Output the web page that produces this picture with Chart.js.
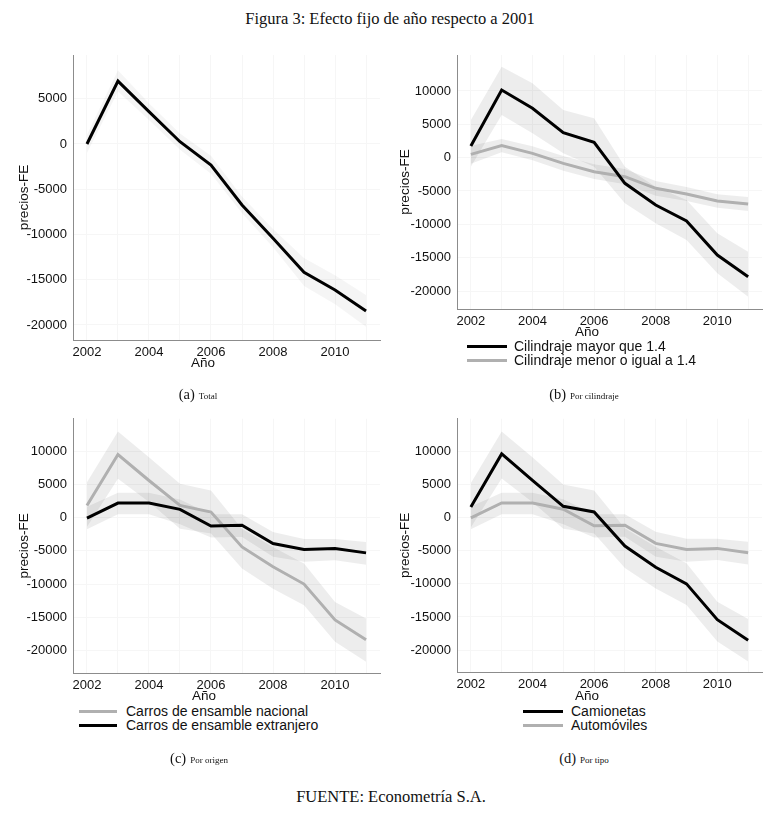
<!DOCTYPE html>
<html>
<head>
<meta charset="utf-8">
<script src="https://cdn.jsdelivr.net/npm/chart.js@4"></script>
<style>
  body { margin: 0; background: #fff; width: 781px; height: 822px; position: relative; overflow: hidden; }
  canvas { position: absolute; }
  .serif { position: absolute; font-family: "Liberation Serif", "DejaVu Serif", serif; color: #111; white-space: nowrap; transform: translate(-50%, -50%); }
  .axt { position: absolute; font-family: "Liberation Sans", Arial, sans-serif; font-size: 13.5px; color: #111; transform: translate(-50%, -50%); }
  .leg { position: absolute; font-family: "Liberation Sans", Arial, sans-serif; font-size: 14px; color: #111; line-height: 14px; }
  .leg div { position: relative; height: 14px; white-space: nowrap; }
  .leg span.ln { position: absolute; left: 0; top: 6px; height: 3px; }
  .leg span.tx { position: absolute; }
</style>
</head>
<body>
<div class="serif" style="left:390px;top:19px;font-size:16.5px">Figura 3: Efecto fijo de año respecto a 2001</div>

<canvas id="cA" width="390" height="322" style="left:0;top:40px"></canvas>
<canvas id="cB" width="391" height="291" style="left:390px;top:40px"></canvas>
<canvas id="cC" width="390" height="290" style="left:0;top:405px"></canvas>
<canvas id="cD" width="391" height="289" style="left:390px;top:405px"></canvas>

<div class="axt" style="left:203px;top:362px">Año</div>
<div class="axt" style="left:587px;top:331px">Año</div>
<div class="axt" style="left:204px;top:695px">Año</div>
<div class="axt" style="left:587px;top:695px">Año</div>

<div class="leg" style="left:467px;top:339px">
  <div><span class="ln" style="width:40px;background:#000"></span><span class="tx" style="left:47px">Cilindraje mayor que 1.4</span></div>
  <div><span class="ln" style="width:40px;background:#b0b0b0"></span><span class="tx" style="left:47px">Cilindraje menor o igual a 1.4</span></div>
</div>
<div class="leg" style="left:79px;top:704px">
  <div><span class="ln" style="width:38px;background:#b0b0b0"></span><span class="tx" style="left:47px">Carros de ensamble nacional</span></div>
  <div><span class="ln" style="width:38px;background:#000"></span><span class="tx" style="left:47px">Carros de ensamble extranjero</span></div>
</div>
<div class="leg" style="left:523px;top:704px">
  <div><span class="ln" style="width:40px;background:#000"></span><span class="tx" style="left:48px">Camionetas</span></div>
  <div><span class="ln" style="width:40px;background:#b0b0b0"></span><span class="tx" style="left:48px">Automóviles</span></div>
</div>

<div class="serif" style="left:198px;top:394px"><span style="font-size:14.5px">(a)</span> <span style="font-size:9px">Total</span></div>
<div class="serif" style="left:584px;top:394px"><span style="font-size:14.5px">(b)</span> <span style="font-size:9px">Por cilindraje</span></div>
<div class="serif" style="left:199px;top:758px"><span style="font-size:14.5px">(c)</span> <span style="font-size:9px">Por origen</span></div>
<div class="serif" style="left:584px;top:758px"><span style="font-size:14.5px">(d)</span> <span style="font-size:9px">Por tipo</span></div>
<div class="serif" style="left:391px;top:797px;font-size:16.5px">FUENTE: Econometría S.A.</div>

<script>
const years = [2002, 2003, 2004, 2005, 2006, 2007, 2008, 2009, 2010, 2011];
const xTickLabels = [2002, 2004, 2006, 2008, 2010];
const yTicksA = [-20000, -15000, -10000, -5000, 0, 5000];
const yTicksB = [-20000, -15000, -10000, -5000, 0, 5000, 10000];

// (a) Total
const total      = [0, 6950, 3570, 250, -2320, -6740, -10420, -14180, -16130, -18450];
const totalHi    = [1000, 8150, 4500, 1150, -1300, -5800, -9400, -12600, -14500, -16700];
const totalLo    = [-1000, 5800, 2650, -650, -3300, -7650, -11400, -15700, -17700, -20200];

// (b) Por cilindraje
const mayor      = [1750, 10150, 7400, 3750, 2300, -3850, -7100, -9500, -14600, -17850];
const mayorHi    = [5650, 13650, 11150, 7150, 5900, -1350, -4350, -6350, -11350, -14100];
const mayorLo    = [-1350, 6400, 3650, 650, -1350, -6850, -9850, -12350, -17350, -20850];
const menor      = [500, 1800, 650, -850, -2100, -2850, -4600, -5450, -6500, -6950];
const menorHi    = [1800, 2800, 1700, 250, -1000, -1700, -3500, -4400, -5500, -5900];
const menorLo    = [-900, 800, -400, -1950, -3200, -4000, -5700, -6500, -7500, -8000];

// (c) Por origen
const nacional   = [1850, 9510, 5600, 1850, 850, -4400, -7400, -10000, -15400, -18400];
const nacionalHi = [5350, 12970, 9100, 5100, 4100, -1650, -4400, -6900, -12700, -15200];
const nacionalLo = [-1400, 5850, 2350, -1650, -2400, -7650, -10700, -13200, -18700, -21700];
const extranjero   = [-50, 2200, 2200, 1250, -1250, -1150, -3900, -4800, -4650, -5300];
const extranjeroHi = [1650, 3750, 3750, 2750, 500, 500, -2150, -3200, -3200, -3650];
const extranjeroLo = [-1750, 500, 500, -1000, -3000, -2900, -5900, -6650, -6400, -7100];

// (d) Por tipo
const camionetas   = [1600, 9600, 5600, 1700, 850, -4300, -7500, -10000, -15400, -18500];
const camionetasHi = [5200, 13000, 9100, 5000, 4100, -1600, -4400, -6900, -12700, -15300];
const camionetasLo = [-1500, 5900, 2300, -1700, -2400, -7600, -10700, -13200, -18700, -21700];
const autos        = [-50, 2200, 2200, 1250, -1250, -1150, -3900, -4800, -4650, -5300];
const autosHi      = [1650, 3750, 3750, 2750, 500, 500, -2150, -3200, -3200, -3650];
const autosLo      = [-1750, 500, 500, -1000, -3000, -2900, -5900, -6650, -6400, -7100];

const BLACK = "#000000";
const GRAY = "#b0b0b0";
const FONT = "'Liberation Sans', Arial, sans-serif";

function pts(vals) {
  return years.map((x, i) => ({ x, y: vals[i] }));
}

function line(vals, color) {
  return { data: pts(vals), borderColor: color, borderWidth: 3, pointRadius: 0, fill: false, order: 0, tension: 0 };
}

function band(lo, hi, alpha) {
  return [
    { data: pts(lo), borderWidth: 0, pointRadius: 0, fill: false, order: 1 },
    { data: pts(hi), borderWidth: 0, pointRadius: 0, fill: "-1", backgroundColor: `rgba(0,0,0,${alpha})`, order: 1 }
  ];
}

function makeChart(id, datasets, cfg) {
  const ctx = document.getElementById(id).getContext("2d");
  return new Chart(ctx, {
    type: "line",
    data: { datasets },
    options: {
      responsive: false,
      animation: false,
      layout: { padding: { top: cfg.padTop, right: cfg.padRight, left: 0, bottom: 0 } },
      plugins: { legend: { display: false }, tooltip: { enabled: false } },
      scales: {
        x: {
          type: "linear",
          min: 2001.55,
          max: 2011.45,
          afterBuildTicks: s => { s.ticks = years.map(v => ({ value: v })); },
          afterFit: s => { s.height = 22; },
          ticks: {
            autoSkip: false,
            maxRotation: 0,
            padding: 5,
            color: "#111",
            font: { family: FONT, size: 13 },
            callback: v => (xTickLabels.includes(v) ? String(v) : "")
          },
          grid: { color: "#f6f6f6", drawTicks: false },
          border: { color: "#8c8c8c", width: 1 }
        },
        y: {
          min: cfg.yMin,
          max: cfg.yMax,
          afterBuildTicks: s => { s.ticks = cfg.yTicks.map(v => ({ value: v })); },
          afterFit: s => { s.width = cfg.yWidth; },
          ticks: {
            padding: 6,
            color: "#111",
            font: { family: FONT, size: 13 },
            callback: v => String(v)
          },
          title: {
            display: true,
            text: "precios-FE",
            color: "#111",
            font: { family: FONT, size: 13.5 },
            padding: { top: cfg.titlePad, bottom: 0 }
          },
          grid: { color: "#f6f6f6", drawTicks: false },
          border: { color: "#8c8c8c", width: 1 }
        }
      }
    }
  });
}

makeChart("cA", [
  line(total, BLACK),
  ...band(totalLo, totalHi, 0.04)
], { padTop: 15, padRight: 10, yWidth: 73, titlePad: 16, yMin: -21660, yMax: 9830, yTicks: yTicksA });

makeChart("cB", [
  line(mayor, BLACK),
  line(menor, GRAY),
  ...band(mayorLo, mayorHi, 0.07),
  ...band(menorLo, menorHi, 0.07)
], { padTop: 15, padRight: 19, yWidth: 67, titlePad: 7, yMin: -22700, yMax: 15400, yTicks: yTicksB });

makeChart("cC", [
  line(extranjero, BLACK),
  line(nacional, GRAY),
  ...band(nacionalLo, nacionalHi, 0.07),
  ...band(extranjeroLo, extranjeroHi, 0.07)
], { padTop: 13, padRight: 10, yWidth: 73, titlePad: 16, yMin: -23400, yMax: 14900, yTicks: yTicksB });

makeChart("cD", [
  line(camionetas, BLACK),
  line(autos, GRAY),
  ...band(camionetasLo, camionetasHi, 0.07),
  ...band(autosLo, autosHi, 0.07)
], { padTop: 13, padRight: 19, yWidth: 67, titlePad: 7, yMin: -23300, yMax: 14900, yTicks: yTicksB });
</script>
</body>
</html>
